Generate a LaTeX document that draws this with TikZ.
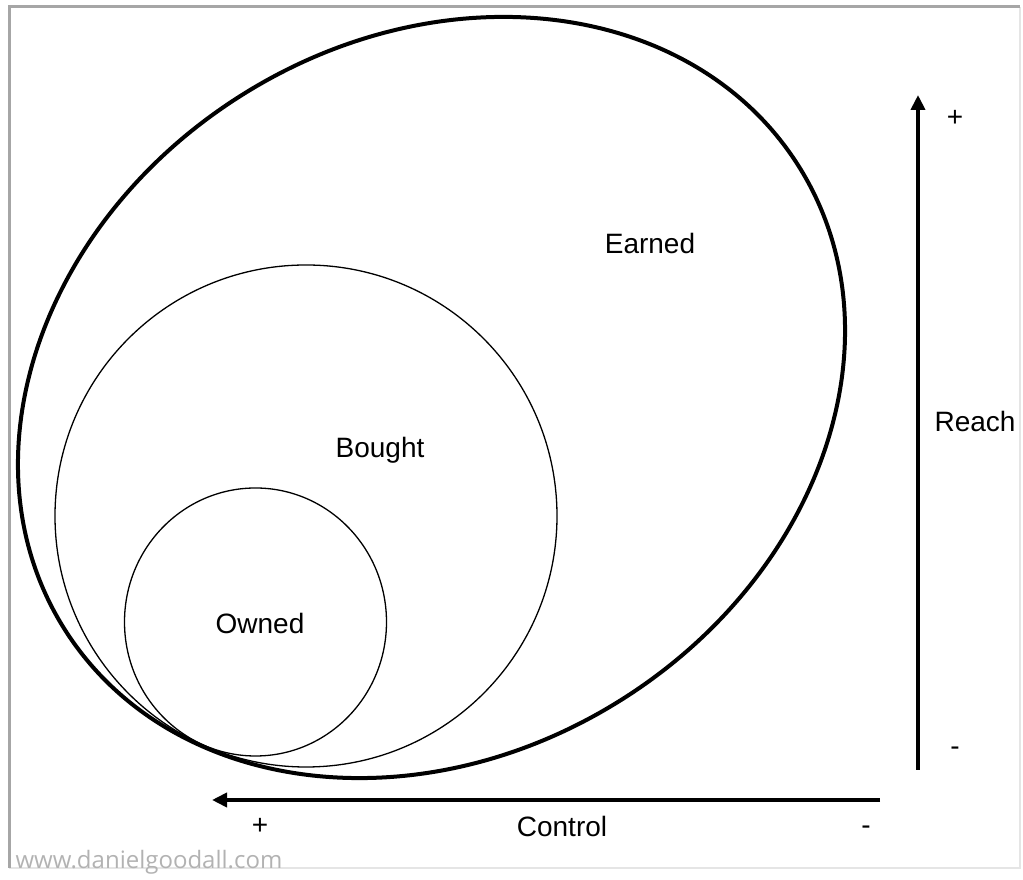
\documentclass[tikz,border=0pt]{standalone}
\usepackage{fontspec}
\setmainfont{Liberation Sans}
\newfontfamily\wmfont{Open Sans}
\usetikzlibrary{arrows.meta}

\begin{document}
\begin{tikzpicture}[x=1pt,y=1pt]
\useasboundingbox (0,0) rectangle (1023,880);
% frame
\draw[gray!20, line width=1.5] (1020,873) -- (1020,12) -- (9,12);
\draw[gray!70, line width=3] (9,12) -- (9,873) -- (1020,873);

% the three areas
\draw[line width=4, rotate around={32.3:(431.5,482.5)}] (431.5,482.5) ellipse [x radius=434, y radius=357];
\draw[line width=1.3] (306,364) circle [radius=251];
\draw[line width=1.3] (255.5,258) ellipse [x radius=131, y radius=134];

\begin{scope}[every node/.style={font=\fontsize{28}{32}\selectfont}]
    \node (earned) at (650,636) {Earned};
    \node (bought) at (380,430) {Bought};
    \node (owned) at (260,257) {Owned};

    \node (reach) at (975,458) {Reach};
    \node (reachplus) at (955,762) {+};
    \node (reachminus) at (955,129) {-};

    \node (control) at (562,54) {Control};
    \node (ctrlplus) at (260,54) {+};
    \node (ctrlminus) at (866,50) {-};
\end{scope}

\node[anchor=west, text=gray!60, font=\wmfont\fontsize{24}{27}\selectfont] (site) at (12,18) {www.danielgoodall.com};

\coordinate (reachlow) at (918,110);
\coordinate (reachtop) at (918,785);
\coordinate (ctrlright) at (880,80);
\coordinate (ctrlleft) at (212,80);

\begin{scope}[>={Triangle[length=15pt,width=14pt]}, line width=4]
     \draw[->] (reachlow) -- (reachtop);
     \draw[->] (ctrlright) -- (ctrlleft);
\end{scope}
\end{tikzpicture}
\end{document}
